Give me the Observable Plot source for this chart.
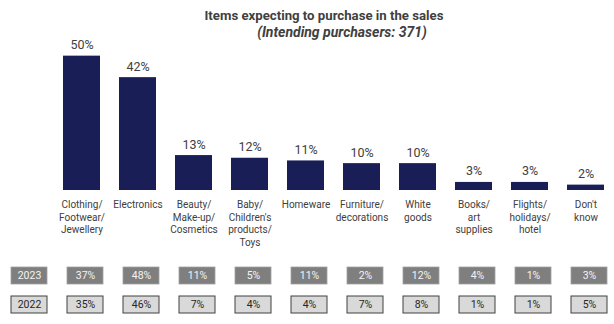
<!DOCTYPE html>
<html><head><meta charset="utf-8">
<script src="https://cdn.jsdelivr.net/npm/d3@7"></script>
<script src="https://cdn.jsdelivr.net/npm/@observablehq/plot@0.6"></script>
<style>
body{margin:0;background:#fff;font-family:Roboto,sans-serif;}
#wrap{position:relative;width:614px;height:324px;overflow:hidden;background:#fff}
#wrap svg{position:absolute;left:0;overflow:visible}
.t{position:absolute;text-align:center;color:#404040;font-weight:700;white-space:nowrap}
</style></head><body><div id="wrap">
<div class="t" style="left:124px;width:400px;top:8px;font-size:13.2px">Items expecting to purchase in the sales</div>
<div class="t" style="left:142px;width:400px;top:24px;font-size:14px;font-style:italic">(Intending purchasers: 371)</div>
</div>
<script>
const categories = ["Clothing/\nFootwear/\nJewellery", "Electronics", "Beauty/\nMake-up/\nCosmetics", "Baby/\nChildren's\nproducts/\nToys", "Homeware", "Furniture/\ndecorations", "White\ngoods", "Books/\nart\nsupplies", "Flights/\nholidays/\nhotel", "Don't\nknow"];
const values = [50, 42, 13, 12, 11, 10, 10, 3, 3, 2];
const years = ["2023", "2022"];
const values2023 = [37, 48, 11, 5, 11, 2, 12, 4, 1, 3];
const values2022 = [35, 46, 7, 4, 4, 7, 8, 1, 1, 5];

const wrap = document.getElementById("wrap");
const bars = categories.map((c, i) => ({cat: c, v: values[i]}));

const chart = Plot.plot({
  width: 614, height: 260,
  marginTop: 50, marginBottom: 70, marginLeft: 56.4, marginRight: 3.9,
  style: {fontFamily: "Roboto, sans-serif", background: "transparent"},
  x: {domain: categories, paddingInner: 0.341, paddingOuter: 0.1, axis: null},
  y: {domain: [0, 52.1], axis: null},
  marks: [
    Plot.barY(bars, {x: "cat", y: "v", fill: "#1a1e57"}),
    Plot.text(bars, {x: "cat", y: "v", text: d => d.v + "%", dy: -11, fontSize: 12.5, fill: "#404040"}),
    Plot.axisX({tickSize: 0, tickPadding: 9, fontSize: 10, color: "#404040", lineHeight: 1.25, label: null})
  ]
});
chart.style.top = "0px";
wrap.appendChild(chart);

const cols = ["year", ...categories];
const row23 = cols.map((c, i) => ({col: c, year: "2023", t: i === 0 ? "2023" : values2023[i - 1] + "%"}));
const row22 = cols.map((c, i) => ({col: c, year: "2022", t: i === 0 ? "2022" : values2022[i - 1] + "%"}));

const table = Plot.plot({
  width: 614, height: 66,
  marginTop: 0, marginBottom: 1.6, marginLeft: 10, marginRight: 6.3,
  style: {fontFamily: "Roboto, sans-serif", background: "transparent"},
  x: {domain: cols, paddingInner: 0.359, paddingOuter: 0, axis: null},
  y: {domain: years, paddingInner: 0.424, paddingOuter: 0.3, axis: null},
  marks: [
    Plot.cell(row23, {x: "col", y: "year", fill: "#7f7f7f", stroke: "#a0a0a0", strokeWidth: 0.8}),
    Plot.cell(row22, {x: "col", y: "year", fill: "#d9d9d9", stroke: "#404040", strokeWidth: 1}),
    Plot.text(row23, {x: "col", y: "year", text: "t", fill: "#f4f4f4", fontSize: 10.5}),
    Plot.text(row22, {x: "col", y: "year", text: "t", fill: "#262626", fontSize: 10.5})
  ]
});
table.style.top = "258px";
wrap.appendChild(table);
</script>
</body></html>
